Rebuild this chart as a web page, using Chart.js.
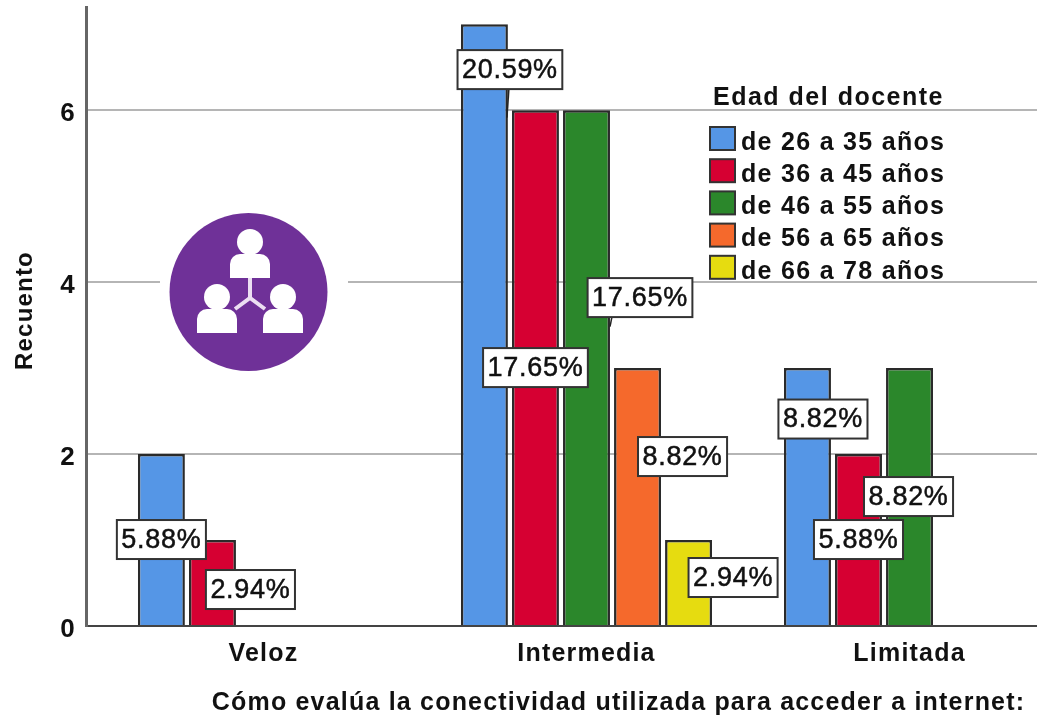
<!DOCTYPE html>
<html>
<head>
<meta charset="utf-8">
<script src="https://cdn.jsdelivr.net/npm/chart.js@4/dist/chart.umd.min.js"></script>
<style>
    html, body { margin: 0; padding: 0; background: #fff; overflow: hidden; }
    canvas { display: block; }
</style>
</head>
<body>
<canvas id="chart" width="1037" height="717"></canvas>
<script>
const categories = ["Veloz", "Intermedia", "Limitada"];
const ageGroups = ["de 26 a 35 años", "de 36 a 45 años", "de 46 a 55 años", "de 56 a 65 años", "de 66 a 78 años"];
const age26to35 = [2, 7, 3];
const age36to45 = [1, 6, 2];
const age46to55 = [null, 6, 3];
const age56to65 = [null, 3, null];
const age66to78 = [null, 1, null];
const pct26to35 = ["5.88%", "20.59%", "8.82%"];
const pct36to45 = ["2.94%", "17.65%", "5.88%"];
const pct46to55 = [null, "17.65%", "8.82%"];
const pct56to65 = [null, "8.82%", null];
const pct66to78 = [null, "2.94%", null];
const yTicks = [0, 2, 4, 6];

const colors = ["#5596e6", "#d60032", "#2b872b", "#f5692c", "#e6dc10"];
const FONT = '"Liberation Sans", Arial, sans-serif';

// label box shift from the middle of its bar, dataset -> category
const labelShift = [
    [[0, 0], [25.5, -255], [15.5, -77.5]],
    [[38, 7], [0, 0], [0, 0]],
    [null, [53.5, -70], [-1, 0]],
    [null, [45, -40], null],
    [null, [44.5, -5], null]
];

const series = [age26to35, age36to45, age46to55, age56to65, age66to78];
const pctLabels = [pct26to35, pct36to45, pct46to55, pct56to65, pct66to78];

// the axis draws its text centred, the picture has it a few px off
const nudge = (axis, method, dx, dy) => {
    const ctx = axis.ctx;
    const original = axis[method].bind(axis);
    axis[method] = (...args) => {
        ctx.save();
        ctx.translate(dx, dy);
        original(...args);
        ctx.restore();
    };
};

const textSpacing = {
    id: "textSpacing",
    beforeDraw(chart) {
        chart.ctx.letterSpacing = "1.2px";
    }
};

// white square behind the picture, gridline stops at its edges
const peopleIcon = {
    id: "peopleIcon",
    afterDatasetsDraw(chart) {
        const ctx = chart.ctx;
        const cx = 248.5, cy = 292, r = 79;
        ctx.save();
        ctx.fillStyle = "#fff";
        ctx.fillRect(160, 208, 188, 170);
        ctx.fillStyle = "#6f3198";
        ctx.beginPath();
        ctx.arc(cx, cy, r, 0, Math.PI * 2);
        ctx.fill();

        ctx.strokeStyle = "#ecdff2";
        ctx.lineWidth = 4;
        ctx.beginPath();
        ctx.moveTo(250, 278);
        ctx.lineTo(250, 298);
        ctx.moveTo(235, 309);
        ctx.lineTo(250, 298);
        ctx.lineTo(265, 309);
        ctx.stroke();

        ctx.fillStyle = "#fff";
        [[250, 242, 278], [217, 297, 333], [283, 297, 333]].forEach(p => {
            ctx.beginPath();
            ctx.arc(p[0], p[1], 13, 0, Math.PI * 2);
            ctx.fill();
            ctx.beginPath();
            ctx.roundRect(p[0] - 20, p[2] - 24, 40, 24, [10, 10, 0, 0]);
            ctx.fill();
        });
        ctx.restore();
    }
};

const barLabels = {
    id: "barLabels",
    afterDatasetsDraw(chart) {
        const ctx = chart.ctx;
        ctx.save();
        ctx.font = "27px " + FONT;
        ctx.textAlign = "center";
        ctx.textBaseline = "middle";
        ctx.letterSpacing = "0.7px";
        pctLabels.forEach((labels, d) => {
            const bars = chart.getDatasetMeta(d).data;
            labels.forEach((text, i) => {
                if (!text) return;
                const bar = bars[i];
                const midX = bar.x;
                const midY = (bar.y + bar.base) / 2;
                const shift = labelShift[d][i];
                const x = midX + shift[0];
                const y = midY + shift[1];
                const w = ctx.measureText(text).width + 9;
                // leader line back to the bar when the box was moved away
                if (text === "20.59%" || (d === 2 && i === 1)) {
                    ctx.strokeStyle = "#222";
                    ctx.lineWidth = 1.5;
                    ctx.beginPath();
                    ctx.moveTo(x - (d === 0 ? 1 : 28), y + 19);
                    ctx.lineTo(x - (d === 0 ? 3 : 30), y + (d === 0 ? 48 : 29));
                    ctx.stroke();
                }
                ctx.fillStyle = "#fff";
                ctx.fillRect(x - w / 2, y - 19.5, w, 39);
                ctx.strokeStyle = "#333";
                ctx.lineWidth = 2;
                ctx.strokeRect(x - w / 2, y - 19.5, w, 39);
                ctx.fillStyle = "#111";
                ctx.strokeStyle = "#111";
                ctx.lineWidth = 0.5;
                ctx.fillText(text, x, y + 1);
                ctx.strokeText(text, x, y + 1);
            });
        });
        ctx.restore();
    }
};

const ageLegend = {
    id: "ageLegend",
    afterDatasetsDraw(chart) {
        const ctx = chart.ctx;
        ctx.save();
        ctx.fillStyle = "#111";
        ctx.textBaseline = "middle";
        ctx.font = "bold 25px " + FONT;
        ctx.letterSpacing = "1.5px";
        ctx.fillText("Edad del docente", 713, 98);
        ctx.letterSpacing = "1.3px";
        chart.data.datasets.forEach((ds, i) => {
            const y = 127 + i * 32.2;
            ctx.fillStyle = ds.backgroundColor;
            ctx.fillRect(710, y, 25, 23);
            ctx.strokeStyle = "#333";
            ctx.lineWidth = 2;
            ctx.strokeRect(710, y, 25, 23);
            ctx.fillStyle = "#111";
            ctx.fillText(ds.label, 741, y + 16);
        });
        ctx.restore();
    }
};

new Chart(document.getElementById("chart"), {
    type: "bar",
    data: {
        datasets: series.map((values, d) => ({
            label: ageGroups[d],
            data: values.map((y, i) => ({ x: i, y: y })),
            backgroundColor: colors[d],
            borderColor: "#2a2a2a",
            borderWidth: 2.5,
            categoryPercentage: 0.79,
            barPercentage: 0.92
        }))
    },
    options: {
        responsive: false,
        animation: false,
        layout: { padding: { top: 7, left: 0, right: 0, bottom: 0 } },
        plugins: {
            legend: { display: false },
            tooltip: { enabled: false }
        },
        scales: {
            x: {
                type: "linear",
                offset: false,
                min: -0.5494,
                max: 2.3946,
                afterBuildTicks(axis) {
                    axis.ticks = categories.map((c, i) => ({ value: i }));
                },
                afterFit(axis) {
                    axis.height = 91;
                    axis.paddingLeft = 0;
                    axis.paddingRight = 0;
                },
                afterUpdate(axis) {
                    if (!axis.nudged) {
                        nudge(axis, "drawTitle", 57, 1);
                        axis.nudged = true;
                    }
                },
                ticks: {
                    callback: value => categories[value],
                    color: "#111",
                    padding: 13,
                    maxRotation: 0,
                    font: { family: FONT, size: 25, weight: "bold" }
                },
                grid: { display: false, drawTicks: false },
                border: { color: "#444", width: 2 },
                title: {
                    display: true,
                    text: "Cómo evalúa la conectividad utilizada para acceder a internet:",
                    color: "#111",
                    padding: { top: 0, bottom: 0 },
                    font: { family: FONT, size: 25, weight: "bold" }
                }
            },
            y: {
                min: 0,
                max: 7.2,
                afterBuildTicks(axis) {
                    axis.ticks = yTicks.map(v => ({ value: v }));
                },
                afterFit(axis) {
                    axis.width = 86;
                    axis.paddingTop = 0;
                    axis.paddingBottom = 0;
                },
                afterUpdate(axis) {
                    if (!axis.nudged) {
                        nudge(axis, "drawLabels", 0, 4);
                        nudge(axis, "drawTitle", 11, -6);
                        axis.nudged = true;
                    }
                },
                ticks: {
                    color: "#111",
                    padding: 10,
                    font: { family: FONT, size: 26, weight: "bold" }
                },
                grid: { color: "#b5b5b5", lineWidth: 2, drawTicks: false },
                border: { color: "#666", width: 3 },
                title: {
                    display: true,
                    text: "Recuento",
                    color: "#111",
                    padding: { top: 0, bottom: 20 },
                    font: { family: FONT, size: 24, weight: "bold" }
                }
            }
        }
    },
    plugins: [textSpacing, peopleIcon, barLabels, ageLegend]
});
</script>
</body>
</html>
